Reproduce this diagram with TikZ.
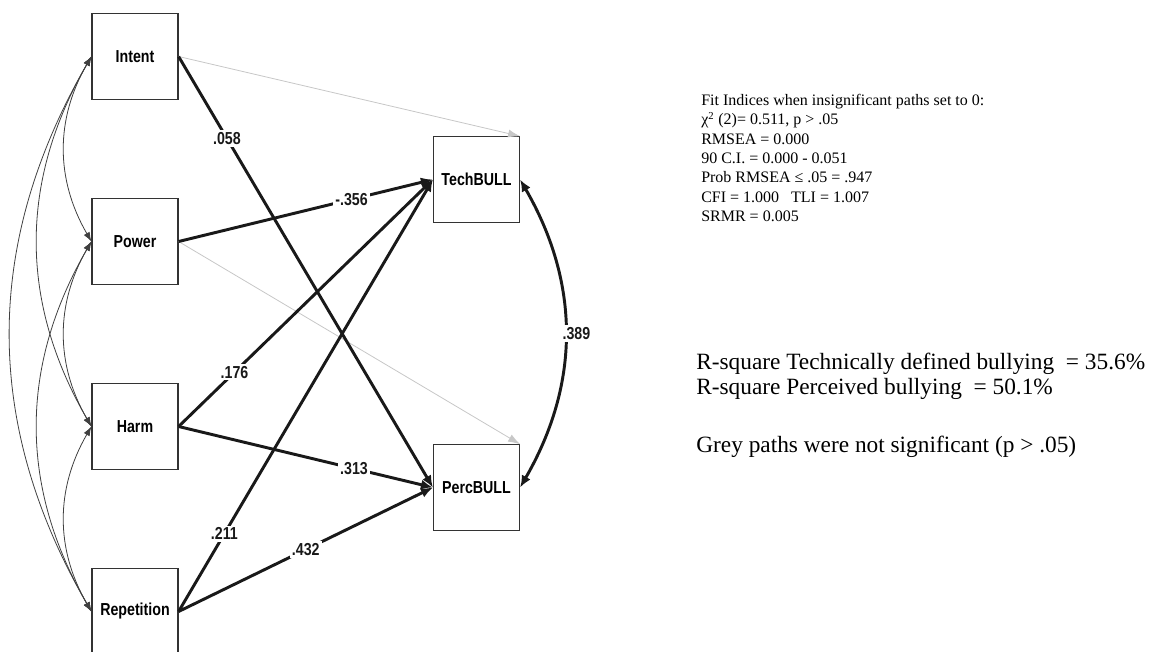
\documentclass[tikz,border=0pt]{standalone}
\usepackage{fontspec}
\setmainfont{Liberation Serif}
\newfontfamily\semfont[FakeStretch=0.82]{Liberation Sans}
\usetikzlibrary{arrows.meta}

\tikzset{
  var/.style={draw=black!80, line width=0.9pt, minimum width=64.5pt, minimum height=64pt,
    inner sep=0pt, font=\semfont\bfseries\fontsize{13}{15}\selectfont},
  sig/.style={line width=2.2pt, black!90, -{Latex[length=9pt,width=7.5pt]}},
  nonsig/.style={line width=0.6pt, black!22, -{Latex[length=9pt,width=6pt]}},
  cov/.style={line width=0.6pt, black!75, {Latex[length=7pt,width=5pt]}-{Latex[length=7pt,width=5pt]}},
  covbig/.style={line width=2.2pt, black!90, {Latex[length=9pt,width=7.5pt]}-{Latex[length=9pt,width=7.5pt]}},
  coef/.style={fill=white, inner sep=1.5pt, font=\semfont\bfseries\fontsize{13}{15}\selectfont}
}

\begin{document}
\begin{tikzpicture}[x=0.75pt,y=-0.75pt]
  \useasboundingbox (0,0) rectangle (1153,651);
  % exogenous variables
  \node[var] (intent) at (135,56.5) {Intent};
  \node[var] (power) at (135,241.5) {Power};
  \node[var] (harm) at (135,426.5) {Harm};
  \node[var] (rep) at (135,611.5) {Repetition};
  % outcomes
  \node[var] (tech) at (476.5,179.5) {TechBULL};
  \node[var] (perc) at (476.5,487.5) {PercBULL};

  % correlations among predictors
  \foreach \a/\b in {intent/power,intent/harm,intent/rep,power/harm,power/rep,harm/rep}
    \draw[cov] (\a.west) to[bend right=30] (\b.west);

  % grey paths (not significant)
  \draw[nonsig] (intent.east) -- (tech.north east);
  \draw[nonsig] (power.east) -- (perc.north east);

  % significant paths
  \draw[sig] (intent.east) -- node[coef,pos=0.19] {.058} (perc.west);
  \draw[sig] (power.east) -- node[coef,pos=0.68] {-.356} (tech.west);
  \draw[sig] (harm.east) -- node[coef,pos=0.22] {.176} (tech.west);
  \draw[sig] (harm.east) -- node[coef,pos=0.69] {.313} (perc.west);
  \draw[sig] (rep.east) -- node[coef,pos=0.18] {.211} (tech.west);
  \draw[sig] (rep.east) -- node[coef,pos=0.5] {.432} (perc.west);

  % residual correlation
  \draw[covbig] (tech.east) to[bend left=30]
    node[coef,anchor=west,xshift=-5pt,inner xsep=2pt] {.389} (perc.east);

  % fit indices
  \node[anchor=north west, align=left, inner sep=0pt,
    font=\fontsize{12}{14.5}\selectfont] (fit) at (701,94)
    {Fit Indices when insignificant paths set to 0:\\
     χ\textsuperscript{2} (2)= 0.511, p > .05\\
     RMSEA = 0.000\\
     90 C.I. = 0.000 - 0.051\\
     Prob RMSEA ≤ .05 = .947\\
     CFI = 1.000\ \ \ TLI = 1.007\\
     SRMR = 0.005};
  \node[anchor=west, align=left, inner sep=0pt,
    font=\fontsize{17.5}{19}\selectfont] (rsq) at (696,376)
    {R-square Technically defined bullying\ \ = 35.6\%\\
     R-square Perceived bullying\ \ = 50.1\%};
  \node[anchor=west, inner sep=0pt, font=\fontsize{17.5}{19}\selectfont] (grey) at (696,447)
    {Grey paths were not significant (p > .05)};
\end{tikzpicture}
\end{document}
